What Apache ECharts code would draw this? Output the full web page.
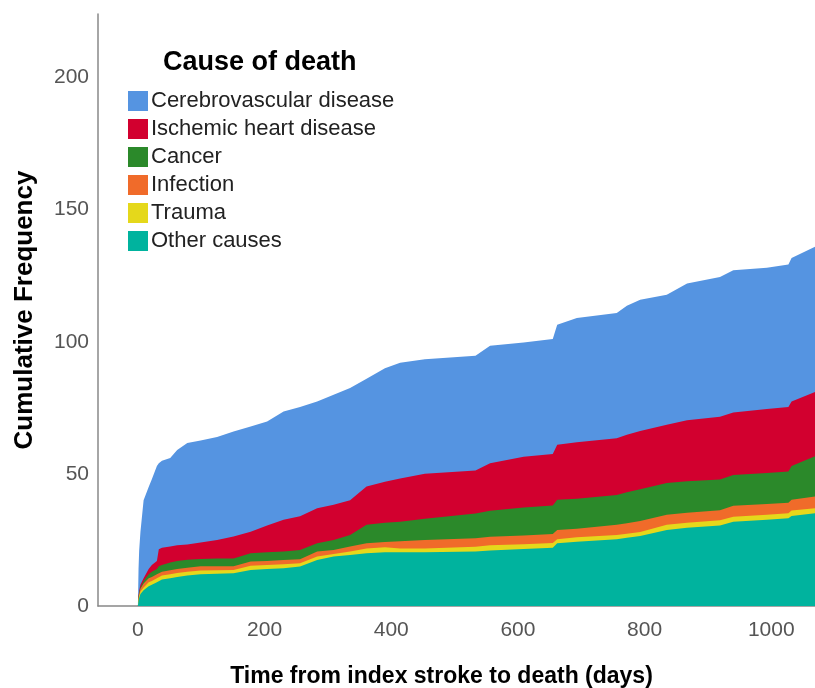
<!DOCTYPE html>
<html>
<head>
<meta charset="utf-8">
<script src="https://cdn.jsdelivr.net/npm/echarts@6/dist/echarts.min.js"></script>
<style>
  html, body { margin: 0; padding: 0; background: #fff; }
  #main { width: 815px; height: 688px; }
</style>
</head>
<body>
<div id="main"></div>
<script>
// days since index stroke (sample points)
const days = [0, 1, 2, 4, 9, 17, 22, 30, 33, 38, 51, 62, 78, 99, 125, 151, 178, 204, 230, 256,
  283, 309, 335, 361, 390, 414, 453, 533, 556, 609, 655, 662, 693, 756, 772, 793, 835, 867,
  919, 940, 993, 1027, 1032, 1069];

// cumulative deaths per cause at those days
const otherCauses = [0, 2, 3, 4.5, 6, 7.5, 8, 9, 9.5, 10, 10.5, 11, 11.5, 12, 12.2, 12.4, 13.6, 14, 14.3, 14.9,
  17.4, 18.7, 19.3, 20, 20.3, 20.3, 20.3, 20.6, 21, 21.6, 22, 23.7, 24.3, 25.3, 25.8, 26.5, 28.8, 29.6,
  30.5, 31.9, 32.6, 33.2, 34.1, 35.1];
const trauma = [0, 0.5, 0.8, 1, 1, 1.5, 1.5, 1.5, 1.5, 1.5, 1.5, 1.5, 1.5, 1.4, 1.3, 1.2, 1.6, 1.5, 1.5, 1.3,
  1.3, 1, 1.3, 1.8, 1.9, 1.5, 1.5, 1.8, 2, 1.8, 1.8, 1.6, 1.7, 1.6, 1.5, 1.5, 1.9, 1.9,
  1.9, 1.9, 1.9, 1.9, 2, 1.9];
const infection = [0, 0.5, 0.7, 1, 1.5, 1.5, 1.5, 1.5, 1.5, 1.5, 1.5, 1.5, 1.5, 1.6, 1.5, 1.4, 1.6, 1.5, 1.6, 1.5,
  1.9, 1.5, 1.9, 1.9, 2, 2.7, 3.2, 3.2, 3.2, 3.3, 3.4, 3.5, 3.2, 3.8, 4, 4.2, 3.8, 3.8,
  3.8, 4.1, 4.1, 4, 4.1, 4.4];
const cancer = [0, 0.5, 0.5, 0.5, 1, 1.5, 2, 2, 2.5, 2.5, 3, 3, 3, 2.8, 3, 3, 3.2, 3.3, 3.2, 3.5,
  3.1, 3.8, 4.4, 7, 7.3, 7.4, 8, 9.4, 9.8, 10.6, 10.8, 11.4, 11.4, 11.3, 11.7, 12, 12, 11.9,
  11.7, 11.7, 11.7, 11.8, 12.8, 15.3];
const ischemic = [0, 0.5, 0.8, 1, 1, 2, 2.5, 3, 6.5, 6.5, 6, 6, 5.8, 6.2, 7, 8.3, 8.1, 10.2, 12, 12.8,
  13.3, 13.3, 13.1, 14.5, 15.5, 16.3, 17, 16.3, 18, 19.2, 19.5, 20.8, 21.4, 21.5, 21.8, 22, 22.1, 23.1,
  23.7, 23.6, 24.2, 24.4, 24.4, 24.3];
const cerebrovascular = [0, 10, 15.2, 20, 29.5, 31, 32.5, 36, 32.5, 33, 33.5, 36, 38.4, 38.6, 38.9, 39.7, 39.8, 39.3, 41, 41.3,
  40.4, 41.6, 42.5, 40.8, 43, 43.8, 43.4, 43.4, 44.5, 43.2, 43.5, 45.4, 47, 47.4, 48.8, 49.7, 49.2, 51.7,
  52.9, 53.8, 53.5, 53.9, 54.3, 54.9];

const xTicks = [0, 200, 400, 600, 800, 1000];
const yTicks = [0, 50, 100, 150, 200];

// bottom -> top of the stack
const causes = [
  { name: 'Other causes', values: otherCauses, color: '#00B39E' },
  { name: 'Trauma', values: trauma, color: '#E5D81B' },
  { name: 'Infection', values: infection, color: '#F06B2A' },
  { name: 'Cancer', values: cancer, color: '#2B892A' },
  { name: 'Ischemic heart disease', values: ischemic, color: '#D2002F' },
  { name: 'Cerebrovascular disease', values: cerebrovascular, color: '#5594E1' }
];

// running totals so each area fills from 0 up to its stacked top
let running = days.map(() => 0);
const stacked = causes.map(function (c) {
  running = running.map((v, i) => v + c.values[i]);
  return { name: c.name, color: c.color, data: days.map((d, i) => [d, +running[i].toFixed(2)]) };
});

const font = '"Liberation Sans", Arial, sans-serif';

const series = stacked.slice().reverse().map(function (s) {
  return {
    name: s.name,
    type: 'line',
    data: s.data,
    showSymbol: false,
    symbol: 'none',
    lineStyle: { width: 0 },
    areaStyle: { color: s.color, opacity: 1 },
    itemStyle: { color: s.color },
    silent: true,
    animation: false
  };
});

const myChart = echarts.init(document.getElementById('main'));
myChart.setOption({
  animation: false,
  title: {
    text: 'Cause of death',
    left: 163,
    top: 49,
    padding: 0,
    textStyle: { fontFamily: font, fontSize: 27, fontWeight: 'bold', color: '#000' }
  },
  legend: {
    orient: 'vertical',
    left: 128,
    top: 90,
    padding: 0,
    itemWidth: 20,
    itemHeight: 20,
    itemGap: 6,
    icon: 'rect',
    data: causes.slice().reverse().map(c => c.name),
    textStyle: { fontFamily: font, fontSize: 22, lineHeight: 22, color: '#222', padding: [0, 0, 0, -2] },
    selectedMode: false
  },
  grid: {
    left: 98,
    right: 0,
    top: 14,
    bottom: 82,
    containLabel: false,
    outerBoundsMode: 'none'
  },
  xAxis: {
    type: 'value',
    min: -63,
    max: 1069,
    name: 'Time from index stroke to death (days)',
    nameLocation: 'middle',
    nameGap: 59,
    nameTextStyle: { fontFamily: font, fontSize: 23, fontWeight: 'bold', color: '#000', padding: [0, 30, 0, 0] },
    axisLine: { onZero: false, lineStyle: { color: '#888', width: 1.5 } },
    axisTick: { show: false },
    splitLine: { show: false },
    axisLabel: {
      customValues: xTicks,
      formatter: v => String(v),
      fontFamily: font, fontSize: 21, color: '#555', margin: 14
    }
  },
  yAxis: {
    type: 'value',
    min: 0,
    max: 224,
    name: 'Cumulative Frequency',
    nameLocation: 'middle',
    nameRotate: 90,
    nameGap: 60,
    nameTextStyle: { fontFamily: font, fontSize: 26, fontWeight: 'bold', color: '#000' },
    axisLine: { show: true, onZero: false, lineStyle: { color: '#888', width: 1.5 } },
    axisTick: { show: false },
    splitLine: { show: false },
    axisLabel: {
      customValues: yTicks,
      formatter: v => String(v),
      fontFamily: font, fontSize: 21, color: '#555', margin: 9
    }
  },
  series: series
});
</script>
</body>
</html>
